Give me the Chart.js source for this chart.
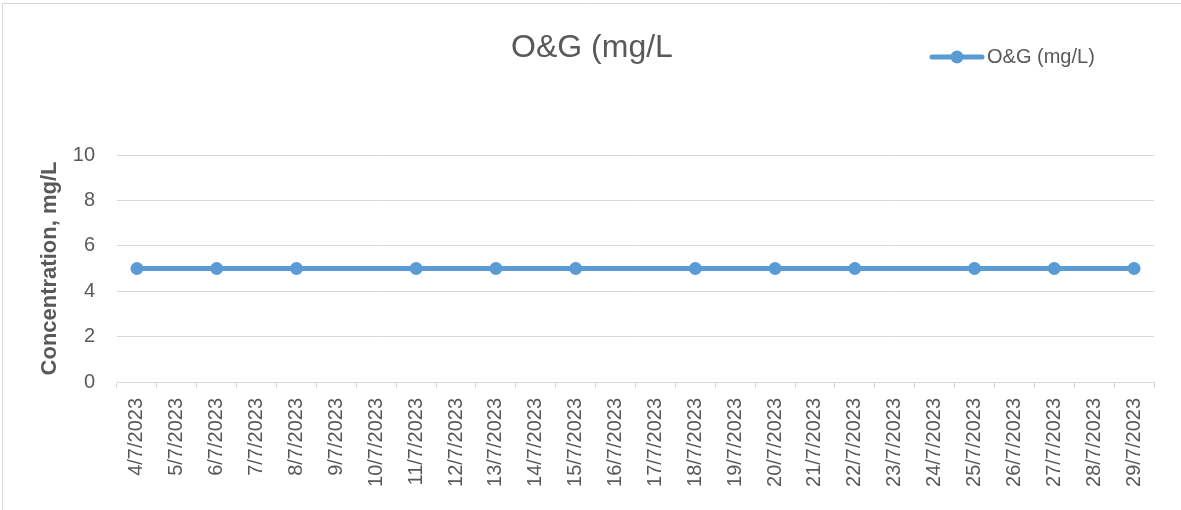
<!DOCTYPE html>
<html>
<head>
<meta charset="utf-8">
<script src="https://cdn.jsdelivr.net/npm/chart.js@4"></script>
<style>
  html, body { margin:0; padding:0; background:#fff; }
  #wrap { width:1181px; height:510px; position:relative; }
</style>
</head>
<body>
<div id="wrap"><canvas id="ogChart"></canvas></div>
<script>
/* O&G 浓度折线图 */
const dates = ['4/7/2023','5/7/2023','6/7/2023','7/7/2023','8/7/2023','9/7/2023','10/7/2023','11/7/2023',
  '12/7/2023','13/7/2023','14/7/2023','15/7/2023','16/7/2023','17/7/2023','18/7/2023','19/7/2023',
  '20/7/2023','21/7/2023','22/7/2023','23/7/2023','24/7/2023','25/7/2023','26/7/2023','27/7/2023',
  '28/7/2023','29/7/2023'];
const ogValues = [5,null,5,null,5,null,null,5,null,5,null,5,null,null,5,null,5,null,5,null,null,5,null,5,null,5];
const yTicks = [0,2,4,6,8,10];
const seriesName = 'O&G (mg/L)';
const titleText = 'O&G (mg/L';
const yTitle = 'Concentration, mg/L';

const BLUE = '#5B9BD5', TXT = '#595959', GRID = '#d9d9d9';
const FONT = '"Liberation Sans", Arial, sans-serif';

// 边框 + 标题 + 图例
const decor = {
  id: 'decor',
  beforeDraw(chart) {
    const c = chart.ctx;
    c.save();
    c.strokeStyle = GRID; c.lineWidth = 1;
    c.beginPath();
    c.moveTo(2.5, chart.height); c.lineTo(2.5, 3.5); c.lineTo(chart.width, 3.5);
    c.stroke();
    c.restore();
  },
  afterDraw(chart) {
    const c = chart.ctx;
    c.save();
    c.fillStyle = TXT;
    c.font = '32px ' + FONT;
    c.textAlign = 'center'; c.textBaseline = 'alphabetic';
    c.fillText(titleText, 592, 57);
    // legend
    c.strokeStyle = BLUE; c.lineWidth = 5; c.lineCap = 'round';
    c.beginPath(); c.moveTo(932, 57); c.lineTo(982, 57); c.stroke();
    c.fillStyle = BLUE;
    c.beginPath(); c.arc(957, 57, 6.5, 0, Math.PI*2); c.fill();
    c.fillStyle = TXT;
    c.font = '20px ' + FONT;
    c.textAlign = 'left'; c.textBaseline = 'middle';
    c.fillText(seriesName, 987, 57);
    c.restore();
  }
};

const ctx = document.getElementById('ogChart').getContext('2d');
new Chart(ctx, {
  type: 'line',
  data: {
    labels: dates,
    datasets: [{
      label: seriesName, data: ogValues, spanGaps: true,
      borderColor: BLUE, backgroundColor: BLUE, borderWidth: 5,
      pointRadius: 6.5, pointHoverRadius: 6.5, pointBorderWidth: 0,
      pointBackgroundColor: BLUE, tension: 0
    }]
  },
  options: {
    responsive: true, maintainAspectRatio: false, animation: false,
    layout: { padding: { top: 155, right: 27, bottom: 0, left: 0 } },
    plugins: { legend: { display: false }, title: { display: false }, tooltip: { enabled: false } },
    scales: {
      x: {
        type: 'category', offset: true,
        grid: { offset: true, drawOnChartArea: false, drawTicks: true, tickLength: 6, color: GRID },
        border: { color: GRID, width: 1 },
        ticks: { color: TXT, font: { family: FONT, size: 20 }, minRotation: 90, maxRotation: 90, autoSkip: false, padding: 10 },
        afterFit(s) { s.height = 128; }
      },
      y: {
        min: 0, max: 10,
        afterBuildTicks(s) { s.ticks = yTicks.map(v => ({ value: v })); },
        grid: { color: GRID, drawTicks: false },
        border: { display: false },
        ticks: { color: TXT, font: { family: FONT, size: 20 }, padding: 22 },
        title: { display: true, text: yTitle, color: TXT, font: { family: FONT, size: 22, weight: 'bold' }, padding: { top: 37, bottom: 0 } },
        afterFit(s) { s.width = 117; }
      }
    }
  },
  plugins: [decor]
});
</script>
</body>
</html>
